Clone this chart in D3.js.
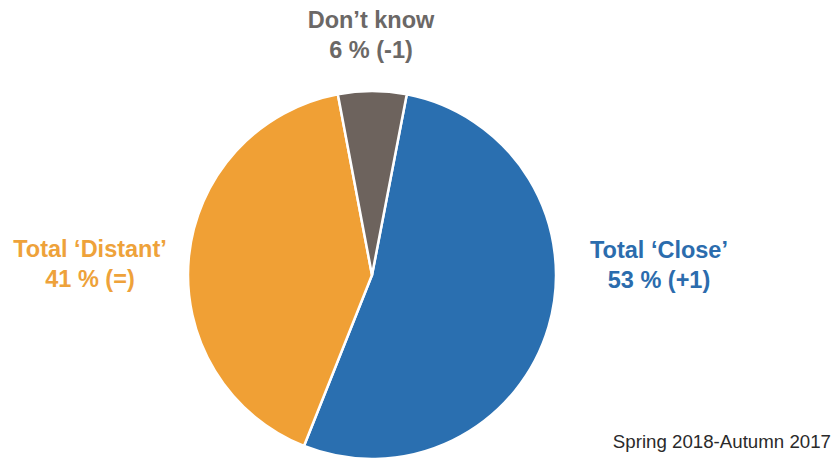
<!DOCTYPE html>
<html><head><meta charset="utf-8">
<script src="https://cdn.jsdelivr.net/npm/d3@7"></script>
<style>html,body{margin:0;padding:0;background:#fff;}svg{display:block;}</style>
</head><body>
<script>
const categories = ["Total \u2018Close\u2019", "Total \u2018Distant\u2019", "Don\u2019t know"];
const values = [53, 41, 6];
const changes = ["(+1)", "(=)", "(-1)"];
const colors = ["#2a6fb0", "#f0a035", "#6d635d"];
const textColors = ["#2b6cad", "#eea23a", "#6b6866"];
const footnote = "Spring 2018-Autumn 2017";

const W = 832, H = 459;
const svg = d3.select("body").append("svg").attr("width", W).attr("height", H);
const cx = 372, cy = 275, r = 184;
const start = 10.9 * Math.PI / 180;
const pie = d3.pie().sort(null).value(d => d).startAngle(start).endAngle(start + 2 * Math.PI);
const arc = d3.arc().innerRadius(0).outerRadius(r);
const g = svg.append("g").attr("transform", `translate(${cx},${cy})`);
g.selectAll("path").data(pie(values)).join("path")
  .attr("d", arc).attr("fill", (d, i) => colors[i])
  .attr("stroke", "#fff").attr("stroke-width", 2.5).attr("stroke-linejoin", "round");

const labelPos = [[659, 258], [90, 257], [371, 28]];
const font = "'Liberation Sans', Arial, Helvetica, sans-serif";
categories.forEach((c, i) => {
  const t = svg.append("text").attr("text-anchor", "middle")
    .attr("font-family", font).attr("font-weight", "bold").attr("font-size", 23.5)
    .attr("fill", textColors[i]);
  t.append("tspan").attr("x", labelPos[i][0]).attr("y", labelPos[i][1]).text(c);
  t.append("tspan").attr("x", labelPos[i][0]).attr("y", labelPos[i][1] + 30).text(`${values[i]} % ${changes[i]}`);
});
svg.append("text").attr("x", 831).attr("y", 448).attr("text-anchor", "end")
  .attr("font-family", font).attr("font-size", 18.7).attr("fill", "#2a2a2a").text(footnote);
</script>
</body></html>
